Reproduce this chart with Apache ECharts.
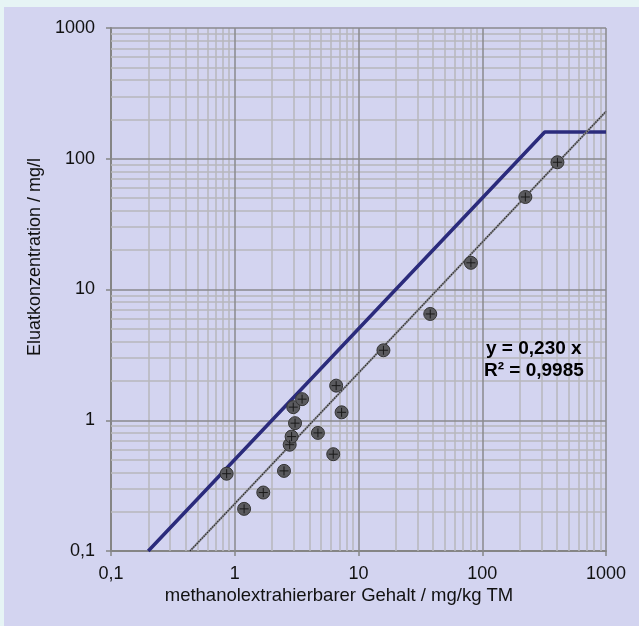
<!DOCTYPE html>
<html>
<head>
<meta charset="utf-8">
<script src="https://cdn.jsdelivr.net/npm/echarts@6/dist/echarts.min.js"></script>
<style>
	html, body { margin: 0; padding: 0; background: #E6F4F5; }
	#panel { position: absolute; left: 4px; top: 7px; right: 0; bottom: 0; background: #D3D4F0; }
	#chart { position: absolute; left: 0; top: 0; width: 639px; height: 626px; }
</style>
</head>
<body>
<div id="panel"></div>
<div id="chart"></div>
<script>
	// Achsenbeschriftung
	var xTickLabels = ['0,1', '1', '10', '100', '1000'];
	var yTickLabels = ['0,1', '1', '10', '100', '1000'];
	var majorTicks = [0.1, 1, 10, 100, 1000];
	var minorSteps = [2, 3, 4, 5, 6, 7, 8, 9];

	// Messwerte: methanolextrahierbarer Gehalt (mg/kg TM) / Eluatkonzentration (mg/l)
	var gehalt = [0.86, 1.19, 1.70, 2.50, 2.78, 2.88, 3.07, 2.97, 3.50, 4.7, 6.25, 6.6, 7.3, 15.9, 38, 81, 223, 405];
	var eluat = [0.39, 0.21, 0.28, 0.41, 0.65, 0.75, 0.95, 1.26, 1.45, 0.80, 0.55, 1.84, 1.15, 3.43, 6.5, 16, 51, 94];

	// Grenzlinie (Knick bei 160 mg/l)
	var limitX = [0.2, 320, 1000];
	var limitY = [0.1, 160, 160];

	// Regression y = 0,230 x
	var fitSlope = 0.230;
	var fitR2 = '0,9985';
	var fitRange = [0.1, 1000];

	var points = [];
	for (var i = 0; i < gehalt.length; i++) {
		points.push([gehalt[i], eluat[i]]);
	}
	var limitLine = [];
	for (var i = 0; i < limitX.length; i++) {
		limitLine.push([limitX[i], limitY[i]]);
	}
	var fitLine = [
		[fitRange[0] / fitSlope, fitRange[0]],
		[fitRange[1], fitRange[1] * fitSlope]
	];

	var minorVals = [];
	for (var d = 0; d < majorTicks.length - 1; d++) {
		for (var k = 0; k < minorSteps.length; k++) {
			minorVals.push(majorTicks[d] * minorSteps[k]);
		}
	}

	function gridLines(vals, axis) {
		var out = [];
		for (var i = 0; i < vals.length; i++) {
			var o = {};
			o[axis] = vals[i];
			out.push(o);
		}
		return out;
	}

	function tickLabel(list) {
		return function(v) {
			var idx = Math.round(Math.log(v) / Math.LN10) + 1;
			return list[idx] != undefined ? list[idx] : '';
		};
	}

	var font = '"Liberation Sans", Arial, sans-serif';
	var chart = echarts.init(document.getElementById('chart'));
	var option = {
		animation: false,
		grid: { left: 111, top: 28, right: 33, bottom: 75, show: false },
		xAxis: {
			type: 'log',
			logBase: 10,
			min: 0.1,
			max: 1000,
			axisLine: { show: true, onZero: false, lineStyle: { color: '#858585', width: 2 } },
			axisTick: { show: true, length: 5, lineStyle: { color: '#858585', width: 1.5 } },
			axisLabel: { formatter: tickLabel(xTickLabels), color: '#111', fontSize: 18, fontFamily: font, margin: 14 },
			splitLine: { show: false },
			minorTick: { show: false },
			minorSplitLine: { show: false }
		},
		yAxis: {
			type: 'log',
			logBase: 10,
			min: 0.1,
			max: 1000,
			axisLine: { show: true, onZero: false, lineStyle: { color: '#858585', width: 2 } },
			axisTick: { show: true, length: 5, lineStyle: { color: '#858585', width: 1.5 } },
			axisLabel: { formatter: tickLabel(yTickLabels), color: '#111', fontSize: 18, fontFamily: font, margin: 16 },
			splitLine: { show: false },
			minorTick: { show: false },
			minorSplitLine: { show: false }
		},
		graphic: [
			{
				type: 'text', z: 100,
				x: 35, y: 257, rotation: Math.PI / 2,
				style: { text: 'Eluatkonzentration / mg/l', font: '18px ' + font, fill: '#111', align: 'center', verticalAlign: 'middle' }
			},
			{
				type: 'text', z: 100,
				x: 339, y: 596,
				style: { text: 'methanolextrahierbarer Gehalt / mg/kg TM', font: '18.5px ' + font, fill: '#111', align: 'center', verticalAlign: 'middle' }
			},
			{
				type: 'text', z: 100,
				x: 486, y: 349,
				style: { text: 'y = ' + fitSlope.toFixed(3).replace('.', ',') + ' x', font: 'bold 19px ' + font, fill: '#000', align: 'left', verticalAlign: 'middle' }
			},
			{
				type: 'text', z: 100,
				x: 484, y: 371,
				style: { text: 'R² = ' + fitR2, font: 'bold 19px ' + font, fill: '#000', align: 'left', verticalAlign: 'middle' }
			}
		],
		series: [
			{
				// Nebengitter
				type: 'line', data: [], z: 1, silent: true,
				markLine: {
					silent: true, symbol: ['none', 'none'], label: { show: false },
					lineStyle: { color: '#B7B7BD', width: 1.5, type: 'solid' },
					data: gridLines(minorVals, 'xAxis').concat(gridLines(minorVals, 'yAxis'))
				}
			},
			{
				// Hauptgitter
				type: 'line', data: [], z: 2, silent: true,
				markLine: {
					silent: true, symbol: ['none', 'none'], label: { show: false },
					lineStyle: { color: '#8A8A8E', width: 1.5, type: 'solid' },
					data: gridLines(majorTicks.slice(1), 'xAxis').concat(gridLines(majorTicks.slice(1), 'yAxis'))
				}
			},
			{
				type: 'line', data: limitLine, z: 5, symbol: 'none',
				lineStyle: { color: '#2B2B7C', width: 3.5 }
			},
			{
				type: 'line', data: fitLine, z: 6, symbol: 'none',
				lineStyle: { color: '#85858C', width: 2 }
			},
			{
				type: 'line', data: fitLine, z: 7, symbol: 'none',
				lineStyle: { color: '#1E1E1E', width: 1.2, type: [1, 1.5] }
			},
			{
				type: 'scatter', data: points, z: 8, symbol: 'circle', symbolSize: 13,
				itemStyle: { color: '#5A5A5E', borderColor: '#333', borderWidth: 1, opacity: 1 }
			},
			{
				type: 'scatter', data: points, z: 9, symbolSize: 9,
				symbol: 'path://M5,0 L5,10 M0,5 L10,5',
				itemStyle: { color: 'none', borderColor: '#1A1A1A', borderWidth: 1, opacity: 1 }
			}
		]
	};
	chart.setOption(option);
</script>
</body>
</html>
